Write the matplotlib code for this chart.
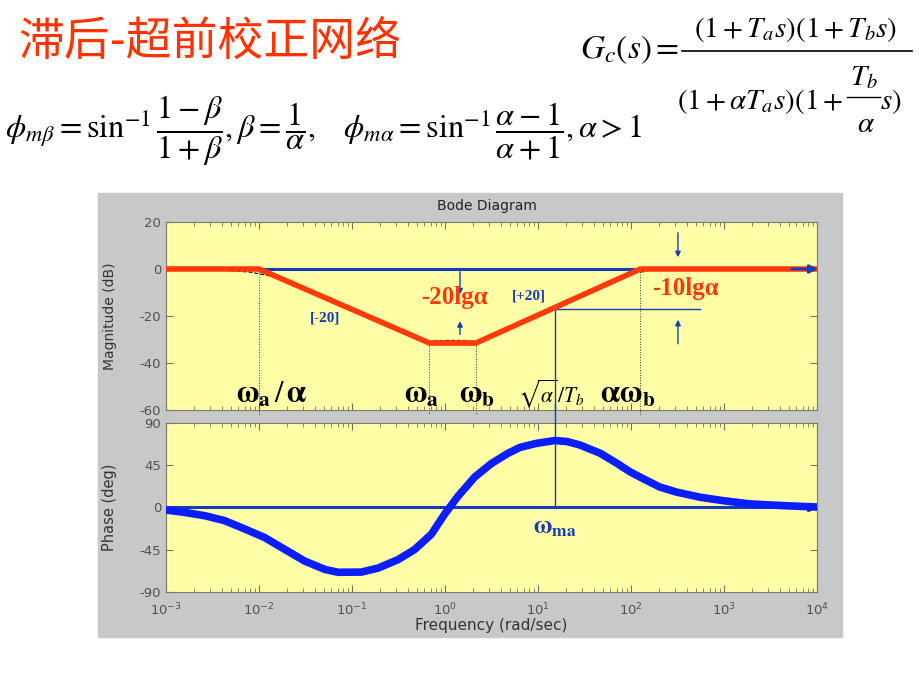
import numpy as np
import matplotlib
matplotlib.use("Agg")
import matplotlib.pyplot as plt
from matplotlib.patches import Rectangle

plt.rcParams['axes.unicode_minus'] = False

# magnitude asymptotes
mag_freq = [1e-3, 0.01, 0.68, 2.15, 126, 1e4]
mag_db = [0, 0, -31.5, -31.5, 0, 0]
# exact curve pieces (dashed, mostly hidden)
exact_freq_l = [1e-3, 0.004, 0.008, 0.012, 0.016]
exact_db_l = [-0.2, -0.5, -1.3, -2.6, -4.0]
exact_freq_m = [0.75, 1.0, 1.4, 2.0]
exact_db_m = [-30.6, -30.4, -30.4, -30.8]
exact_freq_r = [110, 130, 150]
exact_db_r = [-1.5, -1.2, -1.0]

# phase curve
ph_freq = [0.001, 0.00158, 0.00263, 0.00427, 0.00708, 0.0115, 0.019, 0.0309,
           0.0513, 0.0708, 0.126, 0.191, 0.313, 0.468, 0.713, 0.993, 1.38,
           2.09, 3.16, 4.75, 6.4, 9.7, 15.1, 20.4, 28.2, 46.8, 70.8, 97.7,
           135, 204, 309, 550, 977, 1905, 4365, 10000]
ph_deg = [-2.7, -5.2, -8.8, -14, -23, -32, -44.7, -57,
          -66, -69, -68.8, -64.5, -55.5, -45, -28.5, -7, 12,
          32.5, 46.9, 57.7, 64, 68.4, 71.3, 70.3, 66.6, 57.7, 47, 38,
          30.7, 21.8, 16.4, 11, 7.3, 3.8, 2, 0.5]

xticks = [1e-3, 1e-2, 1e-1, 1e0, 1e1, 1e2, 1e3, 1e4]

w_ma = 15.1
db_ma = -17

red = '#ff3a0a'
blue = '#1a3cb4'
curve_blue = '#0a1eff'
yellow = '#ffffa8'
gray = '#c8c8c8'
txt_gray = '#505050'

fig = plt.figure(figsize=(9.2, 6.9), dpi=100)
fig.patches.append(Rectangle((98/920, 1-637/690), 744/920, 444/690,
                             transform=fig.transFigure, color=gray, zorder=-10))

ax1 = fig.add_axes([166/920, 1-410/690, 651/920, 188/690])
ax2 = fig.add_axes([166/920, 1-592/690, 651/920, 169/690])

for ax in (ax1, ax2):
    ax.set_facecolor(yellow)
    ax.set_xscale('log')
    ax.set_xlim(1e-3, 1e4)
    ax.set_xticks(xticks)
    ax.tick_params(which='both', direction='in', top=True, right=True,
                   colors='#707060', labelcolor=txt_gray, labelsize=9.5)
    ax.tick_params(which='major', length=5)
    ax.tick_params(which='minor', length=3)
    ax.tick_params(axis='x', pad=7)
    for s in ax.spines.values():
        s.set_color('#7a7a6a')

ax1.set_ylim(-60, 20)
ax1.set_yticks([20, 0, -20, -40, -60])
ax1.tick_params(labelbottom=False)
ax1.set_ylabel('Magnitude (dB)', fontsize=10, color='#333333')
ax1.yaxis.set_label_coords(-0.075, 0.5)

ax2.set_ylim(-90, 90)
ax2.set_yticks([90, 45, 0, -45, -90])
ax2.set_ylabel('Phase (deg)', fontsize=10.5, color='#333333')
ax2.yaxis.set_label_coords(-0.075, 0.5)
ax2.set_xlabel('Frequency (rad/sec)', fontsize=11, color='#333333', labelpad=0)

fig.text(487/920, 1-206/690, 'Bode Diagram', fontsize=10, color='#222222',
         ha='center', va='center')

# magnitude panel
ax1.plot([0.01, 9e3], [0, 0], color=blue, lw=2.2, zorder=3)
ax1.plot(exact_freq_l, exact_db_l, 'k--', lw=0.8, zorder=2)
ax1.plot(exact_freq_m, exact_db_m, 'k--', lw=0.8, zorder=2)
ax1.plot(exact_freq_r, exact_db_r, 'k--', lw=0.8, zorder=2)
ax1.plot(mag_freq, mag_db, color=red, lw=4, solid_capstyle='butt', zorder=4)
ax1.annotate('', xy=(1.1e4, 0), xytext=(5e3, 0), annotation_clip=False,
             arrowprops=dict(arrowstyle='-|>', color=blue, lw=2, mutation_scale=12),
             zorder=5)

for f, top in [(mag_freq[1], 0), (mag_freq[2], -31.5), (mag_freq[3], -31.5), (mag_freq[4], 0)]:
    ax1.plot([f, f], [top, -62], color='#333333', lw=0.7, ls=':', clip_on=False, zorder=2)

ax1.plot([w_ma, w_ma], [db_ma, -60], color=blue, lw=1, zorder=3)
ax1.plot([w_ma, 550], [db_ma, db_ma], color=blue, lw=1, zorder=3)

arrow_kw = dict(arrowstyle='-|>', color=blue, lw=1, mutation_scale=8)
ax1.annotate('', xy=(1.45, -12), xytext=(1.45, 0), arrowprops=arrow_kw)
ax1.annotate('', xy=(1.45, -21), xytext=(1.45, -29), arrowprops=arrow_kw)
ax1.annotate('', xy=(320, 3.8), xytext=(320, 16.6), arrowprops=arrow_kw)
ax1.annotate('', xy=(320, -20.4), xytext=(320, -33), arrowprops=arrow_kw)

serif_b = dict(family='Liberation Serif', weight='bold')
ax1.text(1.28, -12, '-20lg\u03b1', color=red, fontsize=18, ha='center', va='center', **serif_b)
ax1.text(390, -8.1, '-10lg\u03b1', color=red, fontsize=18, ha='center', va='center', **serif_b)
ax1.text(0.051, -21, '[-20]', color=blue, fontsize=11, ha='center', va='center', **serif_b)
ax1.text(8.0, -11.5, '[+20]', color=blue, fontsize=11, ha='center', va='center', **serif_b)

lab_kw = dict(fontsize=22, ha='center', va='baseline', color='black', math_fontfamily='stix')
ax1.text(0.0136, -56.6, r'$\mathbf{\omega_a}\,/\,\mathbf{\alpha}$', **lab_kw)
ax1.text(0.566, -56.6, r'$\mathbf{\omega_a}$', **lab_kw)
ax1.text(2.21, -56.6, r'$\mathbf{\omega_b}$', **lab_kw)
ax1.text(93.5, -56.6, r'$\mathbf{\alpha\omega_b}$', **lab_kw)
ax1.text(13.8, -56.6, r'$\sqrt{\alpha}\,/T_b$', fontsize=15.5, ha='center', va='baseline',
         math_fontfamily='stix')

# phase panel
ax2.plot([1e-3, 8e3], [0, 0], color=blue, lw=2.2, zorder=3)
ax2.annotate('', xy=(1.1e4, 0), xytext=(5e3, 0), annotation_clip=False,
             arrowprops=dict(arrowstyle='-|>', color=blue, lw=2, mutation_scale=12))
ax2.plot(ph_freq, ph_deg, color=curve_blue, lw=5.5, zorder=4, solid_joinstyle='round')
ax2.plot([w_ma, w_ma], [0, 110], color=blue, lw=1, clip_on=False, zorder=3)
ax2.text(w_ma, -21, r'$\mathbf{\omega_{ma}}$', fontsize=18, color=blue, ha='center',
         va='center', math_fontfamily='stix')

# header texts
fig.text(18/920, 1-42/690, '滞后-超前校正网络', fontsize=33, color='#ff3300',
         family=['Noto Sans CJK SC', 'DejaVu Sans'], ha='left', va='center')
fig.text(5/920, 1-131/690,
         r'$\phi_{m\beta}=\sin^{-1}\dfrac{1-\beta}{1+\beta},\beta=\dfrac{1}{\alpha},\quad'
         r'\phi_{m\alpha}=\sin^{-1}\dfrac{\alpha-1}{\alpha+1},\alpha>1$',
         fontsize=23.3, ha='left', va='center', math_fontfamily='stix')

# G_c(s) built from pieces so the inner fraction keeps full size
mk = dict(fontsize=21, math_fontfamily='stix', va='baseline')
fig.text(580/920, 1-58/690, r'$G_c(s)=$', ha='left', fontsize=24,
         math_fontfamily='stix', va='baseline')
fig.add_artist(plt.Line2D([682/920, 912/920], [1-51/690, 1-51/690], color='black',
                          lw=1.2, transform=fig.transFigure))
fig.text(796/920, 1-37/690, r'$(1+T_a s)(1+T_b s)$', ha='center', **mk)
fig.text(843/920, 1-109/690, r'$(1+\alpha T_a s)(1+$', ha='right', **mk)
fig.text(864/920, 1-85/690, r'$T_b$', ha='center', **mk)
fig.add_artist(plt.Line2D([847/920, 880/920], [1-97/690, 1-97/690], color='black',
                          lw=1.0, transform=fig.transFigure))
fig.text(866/920, 1-132/690, r'$\alpha$', ha='center', **mk)
fig.text(880/920, 1-109/690, r'$s)$', ha='left', **mk)

plt.savefig('out.png', dpi=100)
plt.close()
